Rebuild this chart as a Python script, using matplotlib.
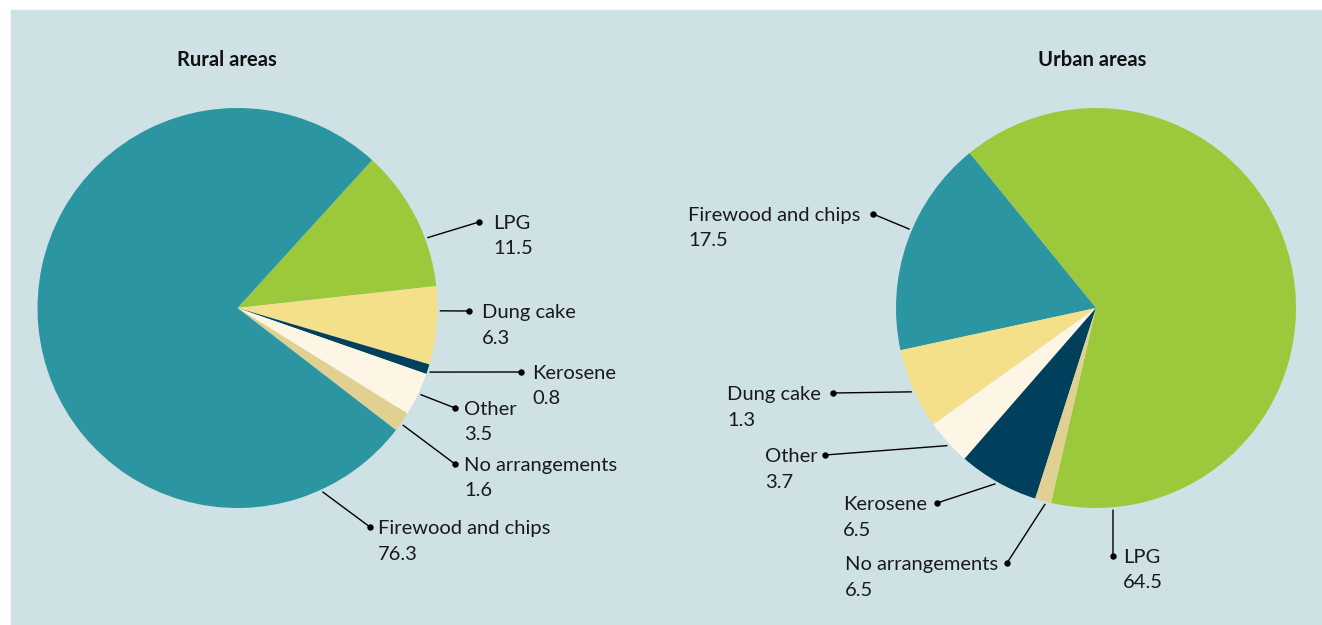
import numpy as np
import matplotlib.pyplot as plt
import matplotlib.patches as mpatches

plt.rcParams['font.family'] = ['Lato', 'DejaVu Sans']

# Rural areas (share of households, %)
rural_labels = ['LPG', 'Dung cake', 'Kerosene', 'Other', 'No arrangements', 'Firewood and chips']
rural_values = [11.5, 6.3, 0.8, 3.5, 1.6, 76.3]

# Urban areas: slice sizes as drawn, values as printed in the source labels
urban_labels = ['LPG', 'Firewood and chips', 'Dung cake', 'Other', 'Kerosene', 'No arrangements']
urban_values = [64.5, 17.5, 6.5, 3.7, 6.5, 1.3]
urban_printed = ['64.5', '17.5', '1.3', '3.7', '6.5', '6.5']

colors = {
    'Firewood and chips': '#2b95a1',
    'LPG': '#9cc93b',
    'Dung cake': '#f4e08a',
    'Kerosene': '#00405d',
    'Other': '#fdf6e4',
    'No arrangements': '#e0d192',
}

W, H = 1322, 625
BG = '#cee1e5'


def py(y):
    # pixel row (from top) -> axes y
    return H - y


# label layout: anchor angle on pie edge, dot position, text left x (pixels)
rural_layout = {
    'LPG': (20.3, 479, 222, 493),
    'Dung cake': (-0.8, 469, 311, 482),
    'Kerosene': (-18.4, 521, 372, 532),
    'Other': (-25.3, 455, 408, 464),
    'No arrangements': (-35.3, 455, 464, 464),
    'Firewood and chips': (-65.1, 370, 527, 378),
}
urban_layout = {
    'Firewood and chips': (157.1, 873, 214, 688),
    'Dung cake': (204.4, 833, 393, 727),
    'Other': (222.7, 825, 455, 765),
    'Kerosene': (240.1, 937, 503, 843),
    'No arrangements': (255.4, 1007, 563, 845),
    'LPG': (274.8, 1113, 556, 1123),
}


def draw_pie(ax, labels, values, printed, center, start, ccw, layout):
    cx, cy = center
    ax.pie(values, colors=[colors[l] for l in labels], startangle=start,
           counterclock=ccw, center=(cx, py(cy)), radius=200,
           wedgeprops=dict(linewidth=0))
    for lab, txt in zip(labels, printed):
        ang, dx, dy, tx = layout[lab]
        a = np.deg2rad(ang)
        x0 = cx + 203 * np.cos(a)
        y0 = py(cy) + 203 * np.sin(a)
        ax.plot([x0, dx], [y0, py(dy)], color='black', lw=1.0, zorder=3)
        ax.plot(dx, py(dy), 'o', color='black', ms=3.6, zorder=4)
        ax.text(tx, py(dy) - 7, lab, fontsize=14.5, color='#1a1a1a', va='baseline', ha='left')
        ax.text(tx, py(dy) - 32.5, txt, fontsize=14.5, color='#1a1a1a', va='baseline', ha='left')


fig = plt.figure(figsize=(W / 100, H / 100), dpi=100)
fig.patch.set_facecolor('white')
ax = fig.add_axes([0, 0, 1, 1])

draw_pie(ax, rural_labels, rural_values, [str(v) for v in rural_values],
         (237.5, 308), 47.7, False, rural_layout)
draw_pie(ax, urban_labels, urban_values, urban_printed,
         (1096, 308), 257.0, True, urban_layout)

# background panel
ax.add_patch(mpatches.Rectangle((11, 0), W - 11, H - 10, color=BG, zorder=-10))

ax.text(227, py(66.5), 'Rural areas', fontsize=14.5, fontweight='bold', ha='center', va='baseline', color='#111111')
ax.text(1092, py(66.5), 'Urban areas', fontsize=14.5, fontweight='bold', ha='center', va='baseline', color='#111111')

ax.set_xlim(0, W)
ax.set_ylim(0, H)
ax.set_aspect('equal')
ax.axis('off')

fig.savefig('out.png', dpi=100, facecolor='white')
